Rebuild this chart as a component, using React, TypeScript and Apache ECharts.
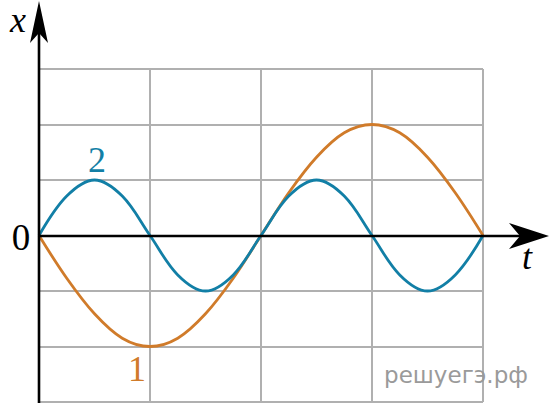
import React, { useEffect, useRef } from "react";
import * as echarts from "echarts";

// time in grid columns, x in grid rows
const tValues = [0, 0.25, 0.5, 0.75, 1, 1.25, 1.5, 1.75, 2, 2.25, 2.5, 2.75, 3, 3.25, 3.5, 3.75, 4];
const curve2 = [0, 0.71, 1, 0.71, 0, -0.71, -1, -0.71, 0, 0.71, 1, 0.71, 0, -0.71, -1, -0.71, 0];
const curve1 = [0, -0.77, -1.41, -1.85, -2, -1.85, -1.41, -0.77, 0, 0.77, 1.41, 1.85, 2, 1.85, 1.41, 0.77, 0];
const seriesNames = ["1", "2"];
const axisNames = ["x", "t", "0"];
const watermark = "решуегэ.рф";

const BLUE = "#127fa6";
const ORANGE = "#d07b2a";

export default function App() {
  const ref = useRef<HTMLDivElement>(null);
  useEffect(() => {
    if (!ref.current) return;
    const chart = echarts.init(ref.current, null, { renderer: "svg" });
    const serif = "Liberation Serif, Times New Roman, serif";
    const txt = (x: number, y: number, text: string, size: number, fill: string, italic: boolean) => ({
      type: "text",
      x,
      y,
      z: 10,
      style: {
        text,
        fontFamily: serif,
        fontSize: size,
        fontStyle: italic ? "italic" : "normal",
        fill,
        align: "center",
        verticalAlign: "middle",
      },
    });
    chart.setOption({
      animation: false,
      backgroundColor: "#fff",
      grid: { left: 39, right: 69, top: 69, bottom: 1 },
      xAxis: {
        type: "value",
        min: 0,
        max: 4,
        interval: 1,
        axisLine: { show: false },
        axisTick: { show: false },
        axisLabel: { show: false },
        splitLine: { show: true, lineStyle: { color: "#b0b0b0", width: 2 } },
      },
      yAxis: {
        type: "value",
        min: -3,
        max: 3,
        interval: 1,
        axisLine: { show: false },
        axisTick: { show: false },
        axisLabel: { show: false },
        splitLine: { show: true, lineStyle: { color: "#b0b0b0", width: 2 } },
      },
      series: [
        {
          name: seriesNames[0],
          type: "line",
          data: tValues.map((t, i) => [t, curve1[i]]),
          smooth: 0.35,
          symbol: "none",
          lineStyle: { color: ORANGE, width: 2.8 },
          z: 3,
        },
        {
          name: seriesNames[1],
          type: "line",
          data: tValues.map((t, i) => [t, curve2[i]]),
          smooth: 0.35,
          symbol: "none",
          lineStyle: { color: BLUE, width: 2.8 },
          z: 4,
        },
      ],
      graphic: [
        { type: "line", shape: { x1: 39, y1: 403, x2: 39, y2: 30 }, style: { stroke: "#000", lineWidth: 2.6 }, z: 10 },
        { type: "polygon", shape: { points: [[39, 1], [30, 43], [39, 33], [48, 43]] }, style: { fill: "#000" }, z: 10 },
        { type: "line", shape: { x1: 39, y1: 236, x2: 520, y2: 236 }, style: { stroke: "#000", lineWidth: 2.6 }, z: 10 },
        { type: "polygon", shape: { points: [[549, 236], [509, 223], [520, 236], [509, 249]] }, style: { fill: "#000" }, z: 10 },
        txt(18, 20, axisNames[0], 36, "#000", true),
        txt(527, 257, axisNames[1], 36, "#000", true),
        txt(21, 237, axisNames[2], 37, "#000", false),
        txt(97, 160, seriesNames[1], 36, BLUE, false),
        txt(137, 369, seriesNames[0], 36, ORANGE, false),
        {
          type: "text",
          x: 456,
          y: 375,
          z: 10,
          style: { text: watermark, fontFamily: "DejaVu Sans", fontSize: 23, fill: "#9a9a9a", align: "center", verticalAlign: "middle" },
        },
      ],
    });
    return () => chart.dispose();
  }, []);
  return <div ref={ref} style={{ width: 552, height: 403, position: "absolute", left: 0, top: 0 }} />;
}
